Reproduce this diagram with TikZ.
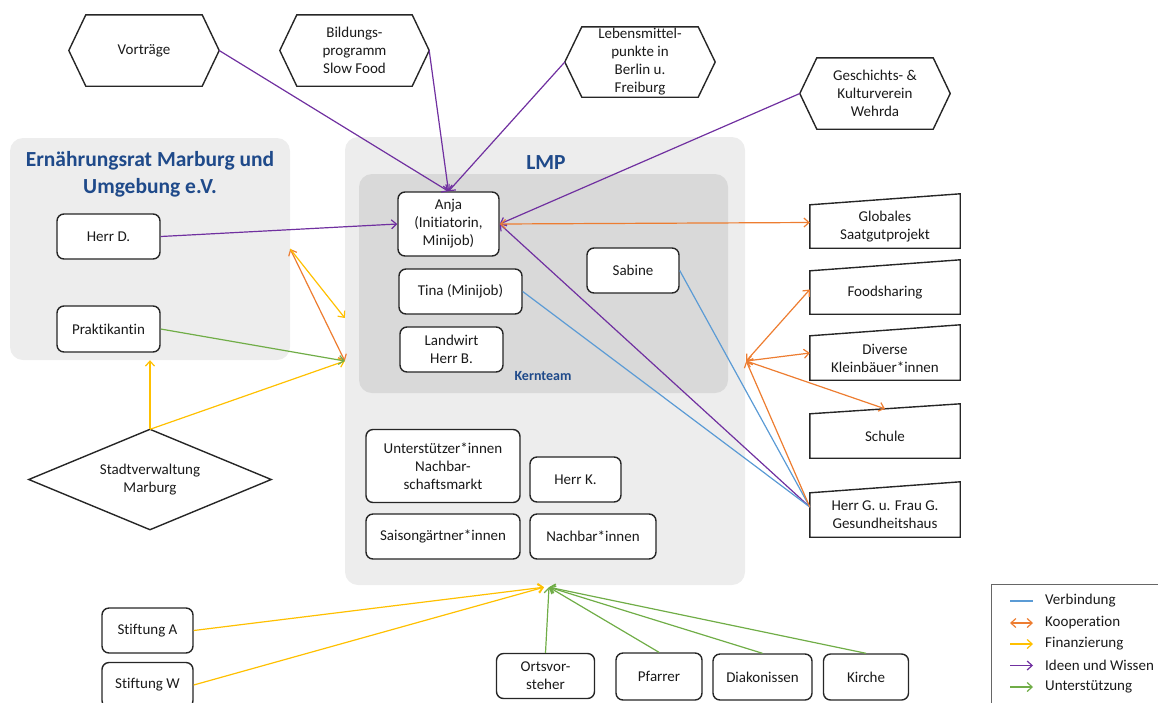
\documentclass[tikz,border=0pt]{standalone}
\usepackage{fontspec}
\setmainfont[Ligatures=NoCommon]{Carlito}
\usetikzlibrary{arrows.meta}
\definecolor{cverb}{HTML}{5B9BD5}
\definecolor{ckoop}{HTML}{ED7D31}
\definecolor{cfin}{HTML}{FFC000}
\definecolor{cidea}{HTML}{7030A0}
\definecolor{csupp}{HTML}{70AD47}
\definecolor{tblue}{HTML}{1F4A8A}
\definecolor{pgrey}{HTML}{EDEDED}
\definecolor{kgrey}{HTML}{D9D9D9}
\definecolor{bord}{HTML}{262626}
\definecolor{txt}{HTML}{1A1A1A}
\newcommand\hexshape[2]{\draw[shapeline] (#1.west) -- ([xshift=#2]#1.north west) -- ([xshift=-#2]#1.north east) -- (#1.east) -- ([xshift=-#2]#1.south east) -- ([xshift=#2]#1.south west) -- cycle;}
\newcommand\trapshape[2]{\draw[shapeline] (#1.north west) -- ([yshift=#2]#1.north east) -- (#1.south east) -- (#1.south west) -- cycle;}
\begin{document}
\begin{tikzpicture}[x=1pt,y=-1pt,
  every node/.style={font=\fontsize{15}{18}\selectfont, text=txt},
  box/.style={draw=bord, line width=1.4pt, rounded corners=7pt, fill=white, align=center, inner sep=2pt},
  ghost/.style={align=center, inner sep=0pt},
  shapeline/.style={draw=bord, line width=1.4pt, line join=miter},
  panel/.style={fill=#1, rounded corners=13pt, inner sep=0pt},
  title/.style={font=\fontsize{21.5}{27}\selectfont\bfseries, text=tblue, align=center},
  tipk/.tip={Straight Barb[length=5pt,width=9pt,line width=1.2pt]},
  verb/.style={draw=cverb, line width=1.2pt},
  koop/.style={draw=ckoop, line width=1.2pt, tipk-tipk},
  koopone/.style={draw=ckoop, line width=1.2pt, -tipk},
  fin/.style={draw=cfin, line width=1.2pt, -tipk},
  ideas/.style={draw=cidea, line width=1.2pt, -tipk},
  supp/.style={draw=csupp, line width=1.2pt, -tipk},
  legtext/.style={anchor=west, inner sep=0pt}]
\useasboundingbox (0,0) rectangle (1158,702);

% panels
\node[panel=pgrey, minimum width=280pt, minimum height=222pt] (er) at (150,249) {};
\node[panel=pgrey, minimum width=400pt, minimum height=448pt] (lmp) at (545,361) {};
\node[panel=kgrey, minimum width=369pt, minimum height=219pt] (kern) at (543.5,283.5) {};
\node[title] (ertitle) at (150,174) {Ernährungsrat Marburg und\\Umgebung e.V.};
\node[title] (lmptitle) at (546,163) {LMP};
\node[font=\fontsize{14}{16}\selectfont\bfseries, text=tblue] (kerntitle) at (543,376) {Kernteam};

% hexagons
\node[ghost, minimum width=150pt, minimum height=71pt] (vor) at (144,50.5) {Vorträge};
\hexshape{vor}{17pt}
\node[ghost, minimum width=149pt, minimum height=71pt] (bild) at (354.5,50.5) {Bildungs-\\programm\\Slow Food};
\hexshape{bild}{17pt}
\node[ghost, minimum width=150pt, minimum height=70pt] (leb) at (640,62) {Lebensmittel-\\punkte in\\Berlin u.\\Freiburg};
\hexshape{leb}{17pt}
\node[ghost, minimum width=150pt, minimum height=71pt] (gesch) at (875,93.5) {Geschichts- \&\\Kulturverein\\Wehrda};
\hexshape{gesch}{17pt}

% boxes
\node[box, minimum width=103pt, minimum height=45pt] (herrd) at (108.5,236.5) {Herr D.};
\node[box, minimum width=103pt, minimum height=46pt] (prakt) at (108.5,329) {Praktikantin};
\node[box, minimum width=101pt, minimum height=64pt] (anja) at (448.5,224) {Anja\\(Initiatorin,\\Minijob)};
\node[box, minimum width=123pt, minimum height=45pt] (tina) at (460.5,291.5) {Tina (Minijob)};
\node[box, minimum width=103pt, minimum height=45pt] (landw) at (451.5,349.5) {Landwirt\\Herr B.};
\node[box, minimum width=92pt, minimum height=45pt] (sabine) at (633,270.5) {Sabine};
\node[box, minimum width=154pt, minimum height=73pt] (unter) at (443,466) {Unterstützer*innen\\Nachbar-\\schaftsmarkt};
\node[box, minimum width=91pt, minimum height=45pt] (herrk) at (575.5,479.5) {Herr K.};
\node[box, minimum width=154pt, minimum height=45pt] (saison) at (443,536.5) {Saisongärtner*innen};
\node[box, minimum width=126pt, minimum height=45pt] (nachbar) at (593,536.5) {Nachbar*innen};
\node[box, minimum width=91pt, minimum height=45pt] (stifta) at (147.5,630.5) {Stiftung A};
\node[box, minimum width=91pt, minimum height=45pt] (stiftw) at (147.5,685) {Stiftung W};
\node[box, minimum width=98pt, minimum height=45pt] (ortsv) at (545.5,676) {Ortsvor-\\steher};
\node[box, minimum width=86pt, minimum height=47pt] (pfarrer) at (659,676.5) {Pfarrer};
\node[box, minimum width=99pt, minimum height=46pt] (diak) at (762.5,677) {Diakonissen};
\node[box, minimum width=85pt, minimum height=46pt] (kirche) at (866,677) {Kirche};

% trapezoids
\node[ghost, minimum width=150pt, minimum height=43pt] (glob) at (885,226.5) {Globales\\Saatgutprojekt};
\trapshape{glob}{11pt}
\node[ghost, minimum width=150pt, minimum height=43pt] (foods) at (885,292.5) {Foodsharing};
\trapshape{foods}{11pt}
\node[ghost, minimum width=150pt, minimum height=44pt] (diverse) at (885,358) {Diverse\\Kleinbäuer*innen};
\trapshape{diverse}{11pt}
\node[ghost, minimum width=150pt, minimum height=44pt] (schule) at (885,436) {Schule};
\trapshape{schule}{10pt}
\node[ghost, minimum width=150pt, minimum height=44pt] (herrg) at (885,515) {Herr G. u. Frau G.\\Gesundheitshaus};
\trapshape{herrg}{11pt}

% diamond
\node[ghost, minimum width=242pt, minimum height=100pt] (stadt) at (150,479.5) {Stadtverwaltung\\Marburg};
\draw[shapeline] (stadt.north) -- (stadt.east) -- (stadt.south) -- (stadt.west) -- cycle;

% helper coordinates
\coordinate (hgpt) at ([yshift=8pt]herrg.west);
\coordinate (kp) at ([xshift=1pt]lmp.east);
\coordinate (ybot) at ([xshift=-1pt,yshift=-2pt]lmp.south);
\coordinate (gbot) at ([xshift=4pt,yshift=-2pt]lmp.south);

% Ideen und Wissen
\draw[ideas] (vor.east) -- (anja.north);
\draw[ideas] (bild.east) -- (anja.north);
\draw[ideas] (leb.west) -- (anja.north);
\draw[ideas] (gesch.west) -- (anja.east);
\draw[ideas] (herrd.east) -- (anja.west);
\draw[ideas] (hgpt) -- (anja.east);

% Verbindung
\draw[verb] (tina.east) -- (hgpt);
\draw[verb] (sabine.east) -- (hgpt);

% Kooperation
\draw[koop] (anja.east) -- ([yshift=4pt]glob.west);
\draw[koop] (kp) -- ([yshift=3pt]foods.west);
\draw[koop] (kp) -- ([yshift=5pt]diverse.west);
\draw[koop] (kp) -- ([yshift=5pt]schule.north);
\draw[koopone] (hgpt) -- (kp);
\draw[koop] (er.east) -- (lmp.west);

% Finanzierung
\draw[fin] (er.east) -- ([yshift=43pt]lmp.west);
\draw[fin] (stadt.north) -- (er.south);
\draw[fin] (stadt.north) -- (lmp.west);
\draw[fin] (stifta.east) -- (ybot);
\draw[fin] (stiftw.east) -- (ybot);

% Unterstuetzung
\draw[supp] (prakt.east) -- (lmp.west);
\draw[supp] (ortsv.north) -- (gbot);
\draw[supp] (pfarrer.north) -- (gbot);
\draw[supp] (diak.north) -- (gbot);
\draw[supp] (kirche.north) -- (gbot);

% legend
\node[draw=black!60, line width=0.8pt, minimum width=172pt, minimum height=125pt, anchor=north west, inner sep=0pt] (legend) at (991,584) {};
\node[legtext] (l1) at (1045,601) {Verbindung};
\node[legtext] (l2) at (1045,623) {Kooperation};
\node[legtext] (l3) at (1045,644) {Finanzierung};
\node[legtext] (l4) at (1045,665.5) {Ideen und Wissen};
\node[legtext] (l5) at (1045,687) {Unterstützung};
\draw[verb] ([xshift=-35pt]l1.west) -- ([xshift=-12pt]l1.west);
\draw[koop] ([xshift=-35pt]l2.west) -- ([xshift=-12pt]l2.west);
\draw[fin] ([xshift=-35pt]l3.west) -- ([xshift=-12pt]l3.west);
\draw[ideas] ([xshift=-35pt]l4.west) -- ([xshift=-12pt]l4.west);
\draw[supp] ([xshift=-35pt]l5.west) -- ([xshift=-12pt]l5.west);
\end{tikzpicture}
\end{document}
